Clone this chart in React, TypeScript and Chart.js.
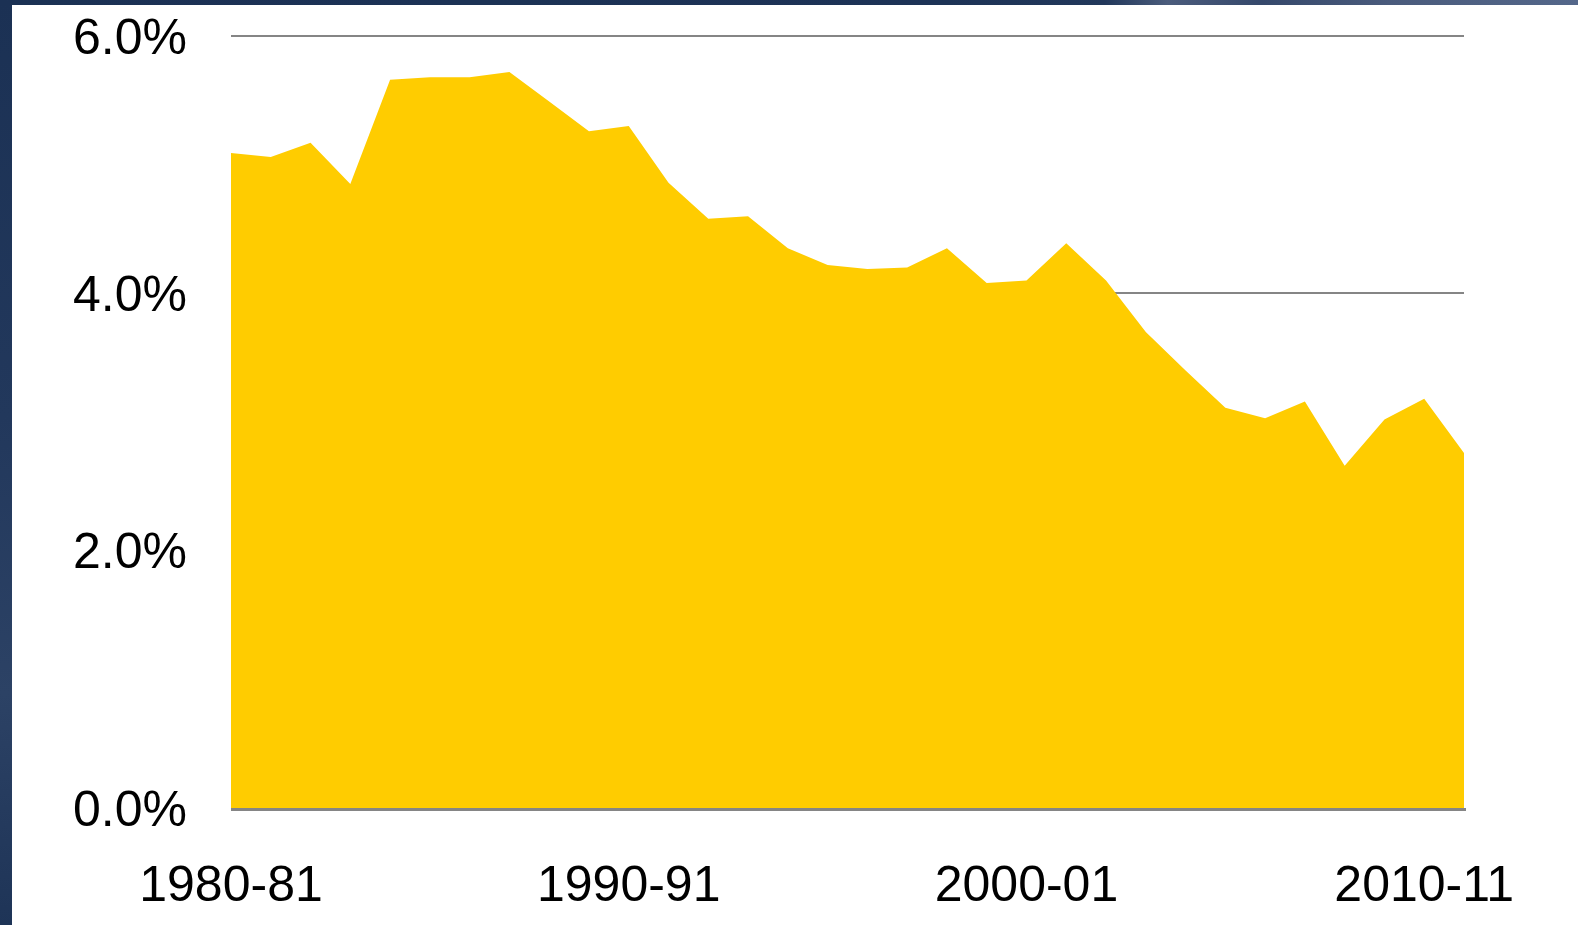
import React, { useEffect, useRef } from "react";
import { Chart, registerables } from "chart.js";

Chart.register(...registerables);

const years: string[] = [
  "1980-81", "1981-82", "1982-83", "1983-84", "1984-85", "1985-86", "1986-87", "1987-88",
  "1988-89", "1989-90", "1990-91", "1991-92", "1992-93", "1993-94", "1994-95", "1995-96",
  "1996-97", "1997-98", "1998-99", "1999-00", "2000-01", "2001-02", "2002-03", "2003-04",
  "2004-05", "2005-06", "2006-07", "2007-08", "2008-09", "2009-10", "2010-11", "2011-12",
];

const shareValues: number[] = [
  5.09, 5.06, 5.17, 4.85, 5.66, 5.68, 5.68, 5.72,
  5.49, 5.26, 5.30, 4.86, 4.58, 4.60, 4.35, 4.22,
  4.19, 4.20, 4.35, 4.08, 4.10, 4.39, 4.10, 3.70,
  3.40, 3.11, 3.03, 3.16, 2.66, 3.02, 3.18, 2.76,
];

const yTicks: number[] = [0, 2, 4, 6];
const labelEvery = 10;

const FONT = "'Liberation Sans', Arial, sans-serif";

export default function App() {
  const canvasRef = useRef<HTMLCanvasElement | null>(null);

  useEffect(() => {
    const canvas = canvasRef.current;
    if (!canvas) return;

    const baselinePlugin = {
      id: "baselineAfter",
      afterDatasetsDraw(chart: any) {
        const { ctx, chartArea, scales } = chart;
        const y = scales.y.getPixelForValue(0);
        ctx.save();
        ctx.strokeStyle = "#858585";
        ctx.lineWidth = 3;
        ctx.beginPath();
        ctx.moveTo(chartArea.left, y + 1.5);
        ctx.lineTo(chartArea.right + 2, y + 1.5);
        ctx.stroke();
        ctx.restore();
      },
    };

    const chart = new Chart(canvas, {
      type: "line",
      data: {
        labels: years,
        datasets: [
          {
            data: shareValues,
            fill: "origin",
            backgroundColor: "#FFCC00",
            borderWidth: 0,
            borderColor: "rgba(0,0,0,0)",
            pointRadius: 0,
            tension: 0,
          },
        ],
      },
      options: {
        animation: false,
        responsive: true,
        maintainAspectRatio: false,
        layout: { padding: { left: 0, top: 36, right: 114, bottom: 0 } },
        plugins: {
          legend: { display: false },
          tooltip: { enabled: false },
        },
        scales: {
          x: {
            type: "category",
            offset: false,
            grid: { display: false, drawTicks: false },
            border: { display: false },
            ticks: {
              autoSkip: false,
              maxRotation: 0,
              padding: 49,
              color: "#000000",
              font: { family: FONT, size: 50 },
              callback: (_v: any, i: number) => (i % labelEvery === 0 ? years[i] : ""),
            },
            afterFit: (s: any) => {
              s.height = 117;
              s.paddingLeft = 0;
              s.paddingRight = 0;
            },
          },
          y: {
            min: 0,
            max: 6,
            afterBuildTicks: (s: any) => {
              s.ticks = yTicks.map((v) => ({ value: v }));
            },
            grid: { color: "#858585", lineWidth: 2, drawTicks: false },
            border: { display: false },
            ticks: {
              padding: 44,
              labelOffset: 4,
              color: "#000000",
              font: { family: FONT, size: 50 },
              callback: (v: any) => Number(v).toFixed(1) + "%",
            },
            afterFit: (s: any) => {
              s.width = 231;
              s.paddingTop = 0;
              s.paddingBottom = 0;
            },
          },
        },
      },
      plugins: [baselinePlugin],
    });

    return () => chart.destroy();
  }, []);

  return (
    <div
      style={{
        position: "fixed",
        left: 0,
        top: 0,
        width: 1578,
        height: 925,
        background: "#ffffff",
        overflow: "hidden",
      }}
    >
      <canvas ref={canvasRef} style={{ position: "absolute", left: 0, top: 0 }} />
      <div
        style={{
          position: "absolute",
          left: 0,
          top: 0,
          width: 12,
          height: 925,
          background: "linear-gradient(to bottom, #1b3154 0%, #22385c 45%, #2c4265 75%, #1e3457 100%)",
        }}
      />
      <div
        style={{
          position: "absolute",
          left: 0,
          top: 0,
          width: 1578,
          height: 5,
          background:
            "linear-gradient(to right, #1b3154 0%, #1d3356 60%, #22385b 70%, #4b5c7c 74%, #35486b 80%, #4a5b7c 88%, #54678a 100%)",
        }}
      />
    </div>
  );
}
